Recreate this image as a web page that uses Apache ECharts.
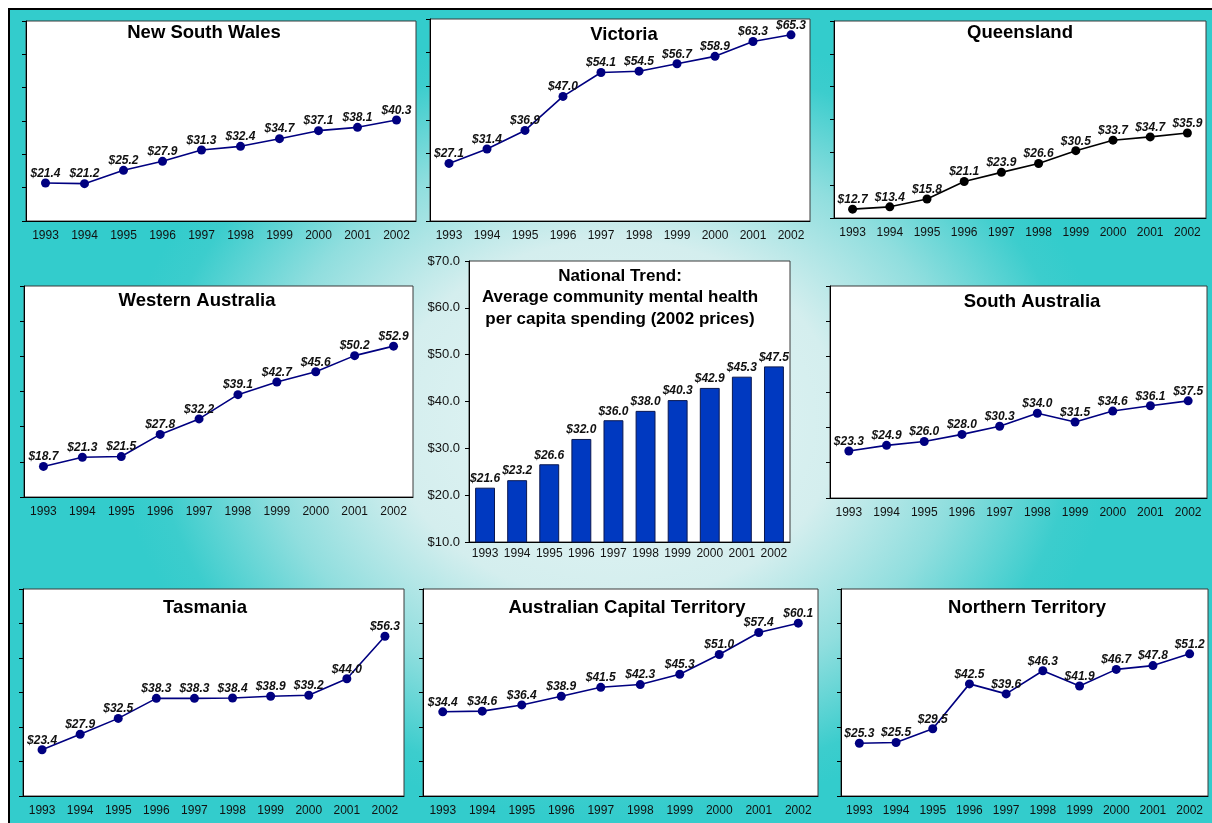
<!DOCTYPE html>
<html>
<head>
<meta charset="utf-8">
<title>Community mental health spending per capita, 1993-2002</title>
<script src="https://cdn.jsdelivr.net/npm/echarts@6/dist/echarts.min.js"></script>
<style>
  html, body { margin: 0; padding: 0; background: #ffffff; }
  #chart { width: 1212px; height: 823px; }
</style>
</head>
<body>
<div id="chart"></div>
<script>
// ---- data: per capita spending ($, 2002 prices) ----
const years = ['1993', '1994', '1995', '1996', '1997', '1998', '1999', '2000', '2001', '2002'];
const nsw = [21.4, 21.2, 25.2, 27.9, 31.3, 32.4, 34.7, 37.1, 38.1, 40.3];
const vic = [27.1, 31.4, 36.9, 47.0, 54.1, 54.5, 56.7, 58.9, 63.3, 65.3];
const qld = [12.7, 13.4, 15.8, 21.1, 23.9, 26.6, 30.5, 33.7, 34.7, 35.9];
const wa  = [18.7, 21.3, 21.5, 27.8, 32.2, 39.1, 42.7, 45.6, 50.2, 52.9];
const sa  = [23.3, 24.9, 26.0, 28.0, 30.3, 34.0, 31.5, 34.6, 36.1, 37.5];
const tas = [23.4, 27.9, 32.5, 38.3, 38.3, 38.4, 38.9, 39.2, 44.0, 56.3];
const act = [34.4, 34.6, 36.4, 38.9, 41.5, 42.3, 45.3, 51.0, 57.4, 60.1];
const nt  = [25.3, 25.5, 29.5, 42.5, 39.6, 46.3, 41.9, 46.7, 47.8, 51.2];
const national = [21.6, 23.2, 26.6, 32.0, 36.0, 38.0, 40.3, 42.9, 45.3, 47.5];

// shared value scale for every panel
const yMin = 10, yMax = 70, yStep = 10;

const nationalTitle = ['National Trend:', 'Average community mental health', 'per capita spending (2002 prices)'];

// ---- layout of the small multiples ----
const FONT = 'Arial, "Liberation Sans", Helvetica, sans-serif';
const NAVY = '#000080';

const panels = [
  { title: 'New South Wales',              values: nsw, color: NAVY,   grid: { left: 26,  top: 21,  width: 390, height: 200 }, tx: 204,  ty: 33 },
  { title: 'Victoria',                     values: vic, color: NAVY,   grid: { left: 430, top: 19,  width: 380, height: 202 }, tx: 624,  ty: 35 },
  { title: 'Queensland',                   values: qld, color: '#000', grid: { left: 834, top: 21,  width: 372, height: 197 }, tx: 1020, ty: 33 },
  { title: 'Western Australia',            values: wa,  color: NAVY,   grid: { left: 24,  top: 286, width: 389, height: 211 }, tx: 197,  ty: 301 },
  { title: 'South Australia',              values: sa,  color: NAVY,   grid: { left: 830, top: 286, width: 377, height: 212 }, tx: 1032, ty: 302 },
  { title: 'Tasmania',                     values: tas, color: NAVY,   grid: { left: 23,  top: 589, width: 381, height: 207 }, tx: 205,  ty: 608 },
  { title: 'Australian Capital Territory', values: act, color: NAVY,   grid: { left: 423, top: 589, width: 395, height: 207 }, tx: 627,  ty: 608 },
  { title: 'Northern Territory',           values: nt,  color: NAVY,   grid: { left: 841, top: 589, width: 367, height: 207 }, tx: 1027, ty: 608 }
];
const nationalGrid = { left: 469, top: 261, width: 321, height: 281 };

const money = v => '$' + Number(v).toFixed(1);

const grids = [], xAxes = [], yAxes = [], series = [];
const graphics = [];

// radial backdrop (ellipse via scaled rect)
const sy = 0.8;
graphics.push({
  type: 'rect', z: -100, silent: true,
  scaleY: sy,
  shape: { x: 0, y: 0, width: 1212, height: 823 / sy },
  style: {
    fill: new echarts.graphic.RadialGradient(615, 420 / sy, 500, [
      { offset: 0,    color: '#e6f6f6' },
      { offset: 0.45, color: '#d4eeee' },
      { offset: 0.7,  color: '#90dede' },
      { offset: 0.92, color: '#3ccdcd' },
      { offset: 1,    color: '#33cccc' }
    ], true)
  }
});
// page margin and frame
graphics.push({ type: 'rect', z: 99, silent: true, shape: { x: 0, y: 0, width: 1212, height: 8 }, style: { fill: '#fff' } });
graphics.push({ type: 'rect', z: 99, silent: true, shape: { x: 0, y: 0, width: 8, height: 823 }, style: { fill: '#fff' } });
graphics.push({ type: 'rect', z: 100, silent: true, shape: { x: 9, y: 9, width: 1220, height: 830 }, style: { fill: null, stroke: '#000', lineWidth: 2 } });

function addGrid(g) {
  grids.push(Object.assign({ show: true, backgroundColor: '#ffffff', borderColor: '#3a3a3a', borderWidth: 1, containLabel: false }, g));
  return grids.length - 1;
}

panels.forEach(p => {
  const gi = addGrid(p.grid);
  xAxes.push({
    type: 'category', gridIndex: gi, data: years, boundaryGap: true,
    axisLine: { lineStyle: { color: '#000', width: 1 } },
    axisTick: { alignWithLabel: true, length: 4, lineStyle: { color: '#000' } },
    axisLabel: { interval: 0, color: '#111', fontSize: 12, fontFamily: FONT, margin: 9 }
  });
  yAxes.push({
    type: 'value', gridIndex: gi, min: yMin, max: yMax, interval: yStep,
    axisLine: { show: true, lineStyle: { color: '#000', width: 1 } },
    axisTick: { show: true, length: 4, lineStyle: { color: '#000' } },
    axisLabel: { show: false },
    splitLine: { show: false }
  });
  series.push({
    type: 'line', xAxisIndex: gi, yAxisIndex: gi, data: p.values,
    symbol: 'circle', symbolSize: 9, animation: false,
    lineStyle: { color: p.color, width: 1.6 },
    itemStyle: { color: p.color },
    label: {
      show: true, position: 'top', distance: -1,
      formatter: d => money(d.value),
      fontFamily: FONT, fontSize: 12, fontWeight: 'bold', fontStyle: 'italic', color: '#111'
    }
  });
  graphics.push({
    type: 'text', z: 50, silent: true, x: p.tx, y: p.ty,
    style: { text: p.title, fontFamily: FONT, fontSize: 18.5, fontWeight: 'bold', fill: '#000', align: 'center', verticalAlign: 'middle' }
  });
});

// national bar chart in the centre
const ni = addGrid(nationalGrid);
xAxes.push({
  type: 'category', gridIndex: ni, data: years, boundaryGap: true,
  axisLine: { lineStyle: { color: '#000', width: 1 } },
  axisTick: { show: false },
  axisLabel: { interval: 0, color: '#111', fontSize: 12, fontFamily: FONT, margin: 6 }
});
yAxes.push({
  type: 'value', gridIndex: ni, min: yMin, max: yMax, interval: yStep,
  axisLine: { show: true, lineStyle: { color: '#000', width: 1 } },
  axisTick: { show: true, length: 4, lineStyle: { color: '#000' } },
  axisLabel: { color: '#111', fontSize: 13, fontFamily: FONT, margin: 9, formatter: v => money(v) },
  splitLine: { show: false }
});
series.push({
  type: 'bar', xAxisIndex: ni, yAxisIndex: ni, data: national,
  barCategoryGap: '38%', animation: false,
  itemStyle: { color: '#0039c0', borderColor: '#0a1850', borderWidth: 1 },
  label: {
    show: true, position: 'top', distance: 3,
    formatter: d => money(d.value),
    fontFamily: FONT, fontSize: 12, fontWeight: 'bold', fontStyle: 'italic', color: '#111'
  }
});
graphics.push({
  type: 'text', z: 50, silent: true, x: 620, y: 297.5,
  style: { text: nationalTitle.join('\n'), fontFamily: FONT, fontSize: 17, fontWeight: 'bold', lineHeight: 21.5, fill: '#000', align: 'center', verticalAlign: 'middle' }
});

const chart = echarts.init(document.getElementById('chart'), null, { renderer: 'canvas', width: 1212, height: 823 });
chart.setOption({
  animation: false,
  backgroundColor: '#ffffff',
  grid: grids,
  xAxis: xAxes,
  yAxis: yAxes,
  series: series,
  graphic: { elements: graphics }
});
</script>
</body>
</html>
